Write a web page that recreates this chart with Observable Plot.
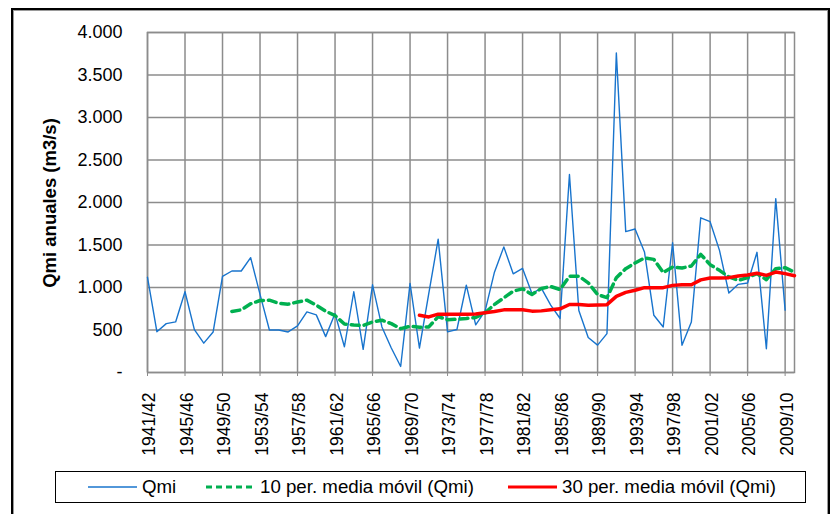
<!DOCTYPE html>
<html><head><meta charset="utf-8">
<script src="https://cdn.jsdelivr.net/npm/d3@7"></script>
<script src="https://cdn.jsdelivr.net/npm/@observablehq/plot@0.6"></script>
<style>
body{margin:0;background:#fff;font-family:"Liberation Sans",Arial,sans-serif;}
#wrap{position:relative;width:839px;height:514px;overflow:hidden;background:#fff;}
#frame{position:absolute;left:11px;top:8px;width:819px;height:530px;box-sizing:border-box;border:2.5px solid #000;box-shadow:inset 0 0 0 1px #9a9a9a;}
#chart{position:absolute;left:0;top:0;}
#ytitle{position:absolute;left:50px;top:203px;transform:translate(-50%,-50%) rotate(-90deg);white-space:nowrap;font-weight:bold;font-size:18.5px;color:#000;}
#legend{position:absolute;left:55px;top:471px;width:751px;height:32px;box-sizing:border-box;border:1.5px solid #000;background:#fff;}
#legend .it{position:absolute;top:0;height:29px;display:flex;align-items:center;font-size:18.7px;color:#000;}
#legend svg{margin-right:5px;}
</style>
</head><body>
<div id="wrap">
  <div id="frame"></div>
  <div id="chart"></div>
  <div id="ytitle">Qmi anuales (m3/s)</div>
  <div id="legend"></div>
</div>
<script>
const seasons = ["1941/42","1942/43","1943/44","1944/45","1945/46","1946/47","1947/48","1948/49","1949/50","1950/51",
"1951/52","1952/53","1953/54","1954/55","1955/56","1956/57","1957/58","1958/59","1959/60","1960/61",
"1961/62","1962/63","1963/64","1964/65","1965/66","1966/67","1967/68","1968/69","1969/70","1970/71",
"1971/72","1972/73","1973/74","1974/75","1975/76","1976/77","1977/78","1978/79","1979/80","1980/81",
"1981/82","1982/83","1983/84","1984/85","1985/86","1986/87","1987/88","1988/89","1989/90","1990/91",
"1991/92","1992/93","1993/94","1994/95","1995/96","1996/97","1997/98","1998/99","1999/00","2000/01",
"2001/02","2002/03","2003/04","2004/05","2005/06","2006/07","2007/08","2008/09","2009/10","2010/11"];

const tickSeasons = ["1941/42","1945/46","1949/50","1953/54","1957/58","1961/62","1965/66","1969/70","1973/74",
"1977/78","1981/82","1985/86","1989/90","1993/94","1997/98","2001/02","2005/06","2009/10"];

const yTicks = [0,500,1000,1500,2000,2500,3000,3500,4000];

// Qmi annual values, 1941/42 .. 2009/10
const qmi = [1120,480,575,595,950,504,345,477,1131,1194,
1194,1351,920,500,500,477,548,713,678,422,
693,303,950,272,1032,536,288,71,1048,288,
930,1568,478,506,1027,561,722,1180,1478,1161,
1224,929,992,792,635,2329,729,412,322,458,
3758,1657,1688,1418,673,535,1527,320,594,1820,
1774,1437,935,1037,1053,1414,280,2045,734];

// 10-period moving average, from 1950/51 .. 2010/11
const ma10 = [717,737,808,847,851,815,804,829,851,792,
721,670,571,560,552,595,615,575,516,544,
532,536,658,620,627,635,647,702,800,878,
957,984,918,988,1012,976,1133,1133,1055,918,
880,1116,1222,1288,1347,1331,1175,1241,1229,1253,
1390,1269,1202,1124,1084,1116,1163,1092,1222,1233,1180];

// 30-period moving average, from 1970/71 .. 2010/11
const ma30 = [674,654,686,684,684,684,688,702,718,737,
737,737,722,725,737,749,800,800,790,794,
798,896,943,967,998,998,998,1025,1033,1033,
1090,1112,1112,1116,1135,1147,1167,1143,1182,1163,1139];

const seriesNames = ["Qmi","10 per. media móvil (Qmi)","30 per. media móvil (Qmi)"];
const colors = ["#1874cd","#00b050","#ff0000"];

const qmiRows = qmi.map((v,i)=>({s:seasons[i], v}));
const ma10Rows = ma10.map((v,i)=>({s:seasons[i+9], v}));
const ma30Rows = ma30.map((v,i)=>({s:seasons[i+29], v}));

const loc = d3.formatLocale({decimal:",", thousands:".", grouping:[3], currency:["",""]});
const f = loc.format(",");
const fmt = d => d === 0 ? "-" : f(d);

const grid = "#8c8c8c";
const font = "'Liberation Sans', Arial, sans-serif";
const plot = Plot.plot({
  width: 839, height: 460,
  marginLeft: 147, marginRight: 45, marginTop: 32, marginBottom: 88,
  style: {fontFamily: font, fontSize: "18px", background: "transparent", color: "#000", overflow: "visible"},
  x: {type: "point", domain: seasons, padding: 0, round: false},
  y: {domain: [0, 4000]},
  marks: [
    Plot.gridX(tickSeasons, {stroke: grid, strokeOpacity: 1, strokeWidth: 1.5}),
    Plot.gridY(yTicks, {stroke: grid, strokeOpacity: 1, strokeWidth: 1.5}),
    Plot.frame({stroke: grid, strokeWidth: 1.5}),
    Plot.line(qmiRows, {x: "s", y: "v", stroke: colors[0], strokeWidth: 1.4}),
    Plot.line(ma10Rows, {x: "s", y: "v", stroke: colors[1], strokeWidth: 3.5, strokeDasharray: "8,5"}),
    Plot.line(ma30Rows, {x: "s", y: "v", stroke: colors[2], strokeWidth: 3.5}),
    Plot.axisX(tickSeasons, {tickSize: 4, tickFormat: () => "", label: null, stroke: grid}),
    Plot.text(tickSeasons, {x: d => d, frameAnchor: "bottom", rotate: -90, textAnchor: "end", lineAnchor: "middle", dy: 20, dx: 2, fontSize: 17.5, fill: "#000"}),
    Plot.axisY(yTicks, {tickFormat: fmt, tickSize: 0, tickPadding: 25, label: null, fontSize: 18})
  ]
});
document.getElementById("chart").appendChild(plot);

// legend
const legend = document.getElementById("legend");
const items = [
  {x: 32, dash: null, w: 1.5},
  {x: 150, dash: "6,4", w: 3},
  {x: 452, dash: null, w: 3}
];
items.forEach((it, i) => {
  const d = document.createElement("div");
  d.className = "it";
  d.style.left = it.x + "px";
  d.innerHTML = `<svg width="49" height="10"><line x1="0" x2="49" y1="5" y2="5" stroke="${colors[i]}" stroke-width="${it.w}" ${it.dash ? `stroke-dasharray="${it.dash}"` : ""}/></svg><span>${seriesNames[i]}</span>`;
  legend.appendChild(d);
});
</script>
</body></html>
